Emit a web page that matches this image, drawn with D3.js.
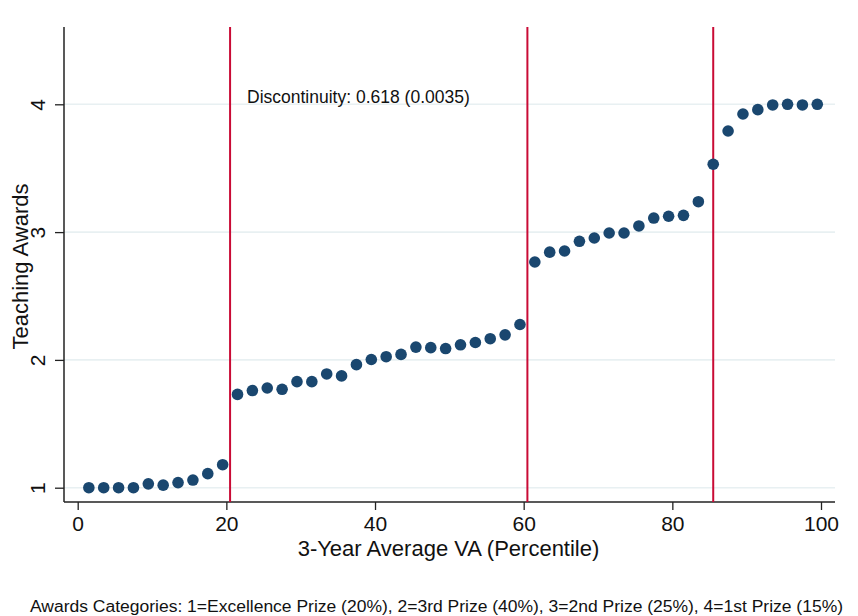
<!DOCTYPE html>
<html>
<head>
<meta charset="utf-8">
<script src="https://cdn.jsdelivr.net/npm/d3@7"></script>
<style>
  html, body { margin: 0; padding: 0; background: #fff; }
  svg { display: block; font-family: "Liberation Sans", Arial, Helvetica, sans-serif; }
</style>
</head>
<body>
<svg id="chart" width="858" height="616"></svg>
<script>
// Binned percentile midpoints (2-point bins) and mean award category per bin
const percentiles = [
  1.5, 3.5, 5.5, 7.5, 9.5, 11.5, 13.5, 15.5, 17.5, 19.5,
  21.5, 23.5, 25.5, 27.5, 29.5, 31.5, 33.5, 35.5, 37.5, 39.5,
  41.5, 43.5, 45.5, 47.5, 49.5, 51.5, 53.5, 55.5, 57.5, 59.5,
  61.5, 63.5, 65.5, 67.5, 69.5, 71.5, 73.5, 75.5, 77.5, 79.5,
  81.5, 83.5, 85.5, 87.5, 89.5, 91.5, 93.5, 95.5, 97.5, 99.5
];
const awards = [
  1.00, 1.00, 1.00, 1.00, 1.03, 1.02, 1.04, 1.06, 1.11, 1.18,
  1.73, 1.76, 1.78, 1.77, 1.83, 1.83, 1.89, 1.875, 1.963, 2.003,
  2.025, 2.043, 2.10, 2.096, 2.089, 2.118, 2.136, 2.166, 2.196, 2.277,
  2.766, 2.843, 2.852, 2.928, 2.954, 2.993, 2.993, 3.048, 3.11, 3.124,
  3.131, 3.238, 3.531, 3.791, 3.924, 3.958, 3.995, 4.00, 3.995, 4.00
];
// Award-category cutoffs
const cutoffs = [20.5, 60.5, 85.5];
const xTicks = [0, 20, 40, 60, 80, 100];
const yTicks = [1, 2, 3, 4];
const xTitle = "3-Year Average VA (Percentile)";
const yTitle = "Teaching Awards";
const annotation = "Discontinuity: 0.618 (0.0035)";
const note = "Awards Categories: 1=Excellence Prize (20%), 2=3rd Prize (40%), 3=2nd Prize (25%), 4=1st Prize (15%)";

const svg = d3.select("#chart");

// Plot region bounds
const plot = { left: 64, right: 835, top: 27, bottom: 502 };

const x = d3.scaleLinear().domain([0, 100]).range([77.7, 821]);
const y = d3.scaleLinear().domain([1, 4]).range([487.7, 104.3]);

const navy = "#1a476f";
const red = "#c90b35";
const axisColor = "#222";

// Gridlines
svg.append("g").selectAll("line")
  .data(yTicks).join("line")
  .attr("x1", plot.left).attr("x2", plot.right)
  .attr("y1", d => y(d)).attr("y2", d => y(d))
  .attr("stroke", "#e8f0f2").attr("stroke-width", 1.6);

// X axis
const gx = svg.append("g")
  .attr("transform", `translate(0,${plot.bottom})`)
  .call(d3.axisBottom(x).tickValues(xTicks).tickSize(8).tickSizeOuter(0).tickPadding(6));
gx.select(".domain").remove();
gx.selectAll(".tick line").attr("stroke", axisColor).attr("stroke-width", 1.3);
gx.selectAll(".tick text")
  .attr("font-size", 21).attr("fill", "#111")
  .attr("font-family", "Liberation Sans, Arial, sans-serif");
svg.append("line")
  .attr("x1", plot.left).attr("x2", plot.right)
  .attr("y1", plot.bottom).attr("y2", plot.bottom)
  .attr("stroke", axisColor).attr("stroke-width", 1.5);

// Y axis
const gy = svg.append("g")
  .attr("transform", `translate(${plot.left},0)`)
  .call(d3.axisLeft(y).tickValues(yTicks).tickSize(9).tickSizeOuter(0));
gy.select(".domain").remove();
gy.selectAll(".tick line").attr("stroke", axisColor).attr("stroke-width", 1.3);
gy.selectAll(".tick text").remove();
gy.selectAll(".tick").append("text")
  .attr("transform", "translate(-19,0) rotate(-90)")
  .attr("text-anchor", "middle")
  .attr("font-size", 21).attr("fill", "#111")
  .attr("font-family", "Liberation Sans, Arial, sans-serif")
  .text(d => d);
svg.append("line")
  .attr("x1", plot.left).attr("x2", plot.left)
  .attr("y1", plot.top).attr("y2", plot.bottom)
  .attr("stroke", axisColor).attr("stroke-width", 1.5);

// Cutoff lines
svg.append("g").selectAll("line")
  .data(cutoffs).join("line")
  .attr("x1", d => x(d)).attr("x2", d => x(d))
  .attr("y1", plot.top).attr("y2", plot.bottom)
  .attr("stroke", red).attr("stroke-width", 2);

// Binned scatter points
svg.append("g").selectAll("circle")
  .data(percentiles.map((p, i) => ({ p, v: awards[i] })))
  .join("circle")
  .attr("cx", d => x(d.p))
  .attr("cy", d => y(d.v))
  .attr("r", 5.8)
  .attr("fill", navy);

// Annotation
svg.append("text")
  .attr("x", 247).attr("y", 103)
  .attr("font-size", 17.5).attr("fill", "#111")
  .text(annotation);

// Axis titles
svg.append("text")
  .attr("x", 448.5).attr("y", 556)
  .attr("text-anchor", "middle")
  .attr("font-size", 22).attr("fill", "#111")
  .text(xTitle);
svg.append("text")
  .attr("transform", `translate(28,${(plot.top + plot.bottom) / 2 + 2}) rotate(-90)`)
  .attr("text-anchor", "middle")
  .attr("font-size", 22).attr("fill", "#111")
  .text(yTitle);

// Note
svg.append("text")
  .attr("x", 30).attr("y", 612)
  .attr("font-size", 16).attr("fill", "#111")
  .attr("textLength", 813).attr("lengthAdjust", "spacingAndGlyphs")
  .text(note);
</script>
</body>
</html>
